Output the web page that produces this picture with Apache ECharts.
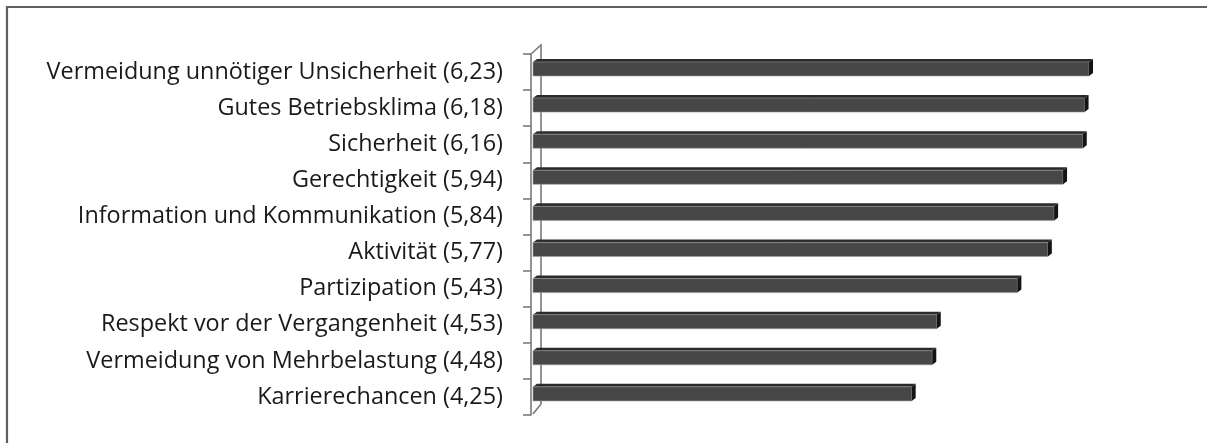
<!DOCTYPE html>
<html>
<head>
<meta charset="utf-8">
<style>
  html, body { margin: 0; padding: 0; background: #ffffff; }
  #chart { width: 1207px; height: 443px; }
</style>
<script src="https://cdn.jsdelivr.net/npm/echarts@6/dist/echarts.min.js"></script>
</head>
<body>
<div id="chart"></div>
<script>
// Kategorien (von oben nach unten) und ihre Mittelwerte
const categories = [
  'Vermeidung unnötiger Unsicherheit (6,23)',
  'Gutes Betriebsklima (6,18)',
  'Sicherheit (6,16)',
  'Gerechtigkeit (5,94)',
  'Information und Kommunikation (5,84)',
  'Aktivität (5,77)',
  'Partizipation (5,43)',
  'Respekt vor der Vergangenheit (4,53)',
  'Vermeidung von Mehrbelastung (4,48)',
  'Karrierechancen (4,25)'
];
const values = [6.23, 6.18, 6.16, 5.94, 5.84, 5.77, 5.43, 4.53, 4.48, 4.25];

// Plot layout
const GRID_LEFT = 531;
const GRID_TOP = 54;
const GRID_WIDTH = 627;
const GRID_HEIGHT = 361;
const WALL_DEPTH_X = 10;
const WALL_DEPTH_Y = 9;

const chart = echarts.init(document.getElementById('chart'), null, { renderer: 'canvas' });

// Draws one pseudo-3D bar: front face, top face and right side face
function renderBar(params, api) {
  const idx = api.value(0);
  const val = api.value(1);
  const p0 = api.coord([0, idx]);
  const p1 = api.coord([val, idx]);
  const band = api.size([0, 1])[1];
  const cy = p0[1];
  const xs = p0[0] + 2;
  const xe = p1[0];
  const top = cy - band * 0.28;
  const bot = cy + band * 0.11;
  const d = 4, dy = 3;
  return {
    type: 'group',
    children: [
      {
        type: 'polygon',
        shape: { points: [[xs, top], [xe, top], [xe + d, top - dy], [xs + d, top - dy]] },
        style: { fill: '#2b2b2b' }
      },
      {
        type: 'rect',
        shape: { x: xs, y: top, width: xe - xs, height: bot - top },
        style: { fill: '#474747', stroke: '#9a9a9a', lineWidth: 0.6 }
      },
      {
        type: 'polygon',
        shape: { points: [[xe, top], [xe + d, top - dy], [xe + d, bot - dy], [xe, bot]] },
        style: { fill: '#141414' }
      }
    ]
  };
}

const gridBottomY = GRID_TOP + GRID_HEIGHT;
const wallX = GRID_LEFT + WALL_DEPTH_X;

chart.setOption({
  animation: false,
  backgroundColor: '#ffffff',
  grid: { left: GRID_LEFT, top: GRID_TOP, width: GRID_WIDTH, height: GRID_HEIGHT, containLabel: false },
  xAxis: {
    type: 'value',
    min: 0,
    max: 7,
    show: false
  },
  yAxis: {
    type: 'category',
    data: categories,
    inverse: true,
    axisLine: { show: true, lineStyle: { color: '#7a7a7a', width: 1.6 } },
    axisTick: { show: true, length: 8, lineStyle: { color: '#7a7a7a', width: 1.6 } },
    axisLabel: {
      margin: 28,
      color: '#1a1a1a',
      fontFamily: '"Open Sans", sans-serif',
      fontSize: 23.4
    },
    splitLine: { show: false }
  },
  graphic: [
    // Outer frame
    {
      type: 'rect', silent: true,
      shape: { x: 7, y: 7, width: 1300, height: 500 },
      style: { fill: 'none', stroke: '#5f5f5f', lineWidth: 2.2 }
    },
    // Back edge of the axis wall
    {
      type: 'polyline', silent: true,
      shape: { points: [
        [GRID_LEFT, GRID_TOP],
        [wallX, GRID_TOP - WALL_DEPTH_Y],
        [wallX, gridBottomY - WALL_DEPTH_Y - 2],
        [GRID_LEFT + 2, gridBottomY - 1]
      ] },
      style: { fill: 'none', stroke: '#7a7a7a', lineWidth: 1.6 }
    }
  ],
  series: [{
    type: 'custom',
    renderItem: renderBar,
    encode: { y: 0, x: 1 },
    data: values.map((v, i) => [i, v]),
    z: 3
  }]
});
</script>
</body>
</html>
